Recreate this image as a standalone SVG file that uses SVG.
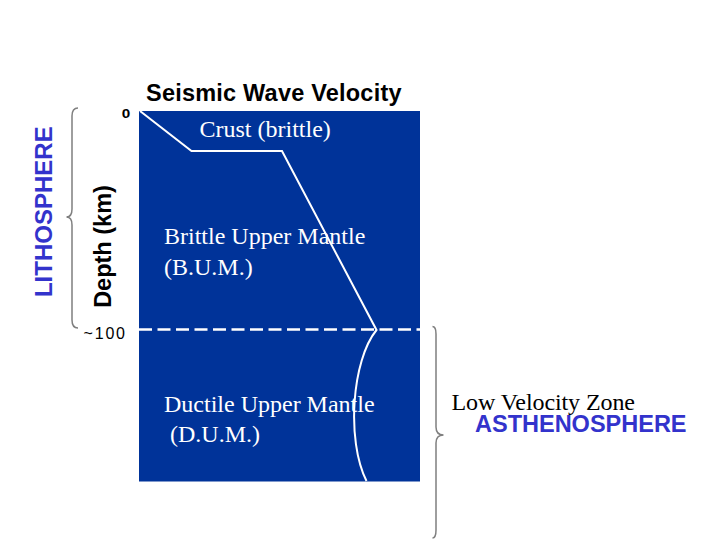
<svg xmlns="http://www.w3.org/2000/svg" width="720" height="540" viewBox="0 0 720 540">
<style>
.serif{font-family:"Liberation Serif","Times New Roman",serif;font-size:24px;fill:#ffffff}
.sans{font-family:"Liberation Sans",Arial,sans-serif;fill:#000000}
.bold{font-weight:bold}
.blue{fill:#3333cc}
.brace{fill:none;stroke:#7f7f7f;stroke-width:1.5}
.vel{fill:none;stroke:#ffffff;stroke-width:2}
</style>
<rect width="720" height="540" fill="#ffffff"/>
<g id="plot">
<rect x="139" y="111" width="281" height="370.5" fill="#003399"/>
</g>
<g id="connectors">
<line x1="139" y1="329.5" x2="420" y2="329.5" stroke="#ffffff" stroke-width="2.5" stroke-dasharray="13 5.5"/>
<path class="vel" d="M140,111 L191.5,151 L282,151 L376.5,330 C352,360 346,440 366.5,481"/>
<path class="brace" d="M78,108 Q72,108 72,116 L72,209 Q72,217 66.5,217 Q72,217 72,225 L72,320 Q72,328 78,328"/>
<path class="brace" d="M432.5,326.5 Q436,326.5 436,334 L436,427 Q436,435 443.5,435 Q436,435 436,443 L436,530 Q436,538 432.5,538"/>
</g>
<g id="title"><text class="sans bold" x="146" y="101" font-size="23.5" textLength="255.5">Seismic Wave Velocity</text></g>
<g id="axis">
<text class="sans bold" x="121.7" y="117.5" font-size="13" textLength="8.5" lengthAdjust="spacingAndGlyphs">0</text>
<text class="sans" x="125" y="338.5" font-size="16" text-anchor="end" textLength="41.5">~100</text>
<text class="sans bold" transform="translate(111,246.5) rotate(-90)" font-size="23.5" text-anchor="middle">Depth (km)</text>
</g>
<g id="crust"><text class="serif" x="199.5" y="136.5">Crust (brittle)</text></g>
<g id="bum">
<text class="serif" x="164" y="244">Brittle Upper Mantle</text>
<text class="serif" x="164" y="275">(B.U.M.)</text>
</g>
<g id="dum">
<text class="serif" x="164" y="411.5">Ductile Upper Mantle</text>
<text class="serif" x="170" y="442">(D.U.M.)</text>
</g>
<g id="lithosphere"><text class="sans bold blue" transform="translate(51.5,211.7) rotate(-90)" font-size="24" text-anchor="middle">LITHOSPHERE</text></g>
<g id="lvz"><text class="serif" x="451.5" y="409.5" style="fill:#000000" textLength="183.5">Low Velocity Zone</text></g>
<g id="asthenosphere"><text class="sans bold blue" x="475" y="432" font-size="23.5">ASTHENOSPHERE</text></g>
</svg>
